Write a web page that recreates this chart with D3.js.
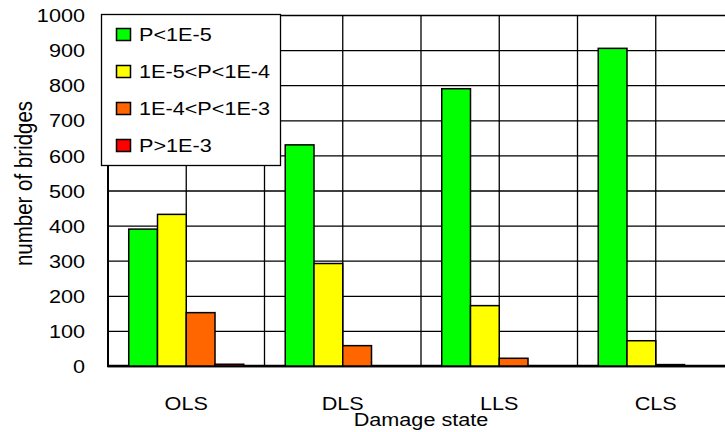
<!DOCTYPE html>
<html><head><meta charset="utf-8">
<script src="https://cdn.jsdelivr.net/npm/d3@7"></script>
<style>
html,body{margin:0;padding:0;background:#fff;}
svg{display:block;font-family:"Liberation Sans",Arial,sans-serif;}
</style></head>
<body>
<svg id="chart" width="725" height="432"></svg>
<script>
const categories = ["OLS", "DLS", "LLS", "CLS"];
const seriesNames = ["P<1E-5", "1E-5<P<1E-4", "1E-4<P<1E-3", "P>1E-3"];
const seriesColors = ["#00ff00", "#ffff00", "#ff6600", "#ff0000"];
const valuesPLt1e5 = [390, 630, 790, 905];
const values1e5to1e4 = [432, 292, 172, 72];
const values1e4to1e3 = [152, 58, 22, 4];
const valuesPGt1e3 = [5, 0, 0, 0];
const yTicks = [0, 100, 200, 300, 400, 500, 600, 700, 800, 900, 1000];
const xTitle = "Damage state";
const yTitle = "number of bridges";

(function () {
const series = [valuesPLt1e5, values1e5to1e4, values1e4to1e3, valuesPGt1e3];
const SX = 1.17, FS = 18.5;

const svg = d3.select("#chart");
const pLeft = 108, pRight = 734, pTop = 15, pBottom = 366;

const x0 = d3.scaleBand().domain(categories).range([pLeft, pRight])
  .paddingInner(0.265).paddingOuter(0.1325);
const x1 = d3.scaleBand().domain(seriesNames).range([0, x0.bandwidth()]);
const y = d3.scaleLinear().domain([0, 1000]).range([pBottom, pTop]);

// horizontal gridlines + y tick labels
const yAxis = svg.append("g").attr("transform", `translate(${pLeft},0)`)
  .call(d3.axisLeft(y).tickValues(yTicks).tickFormat(d3.format("d"))
    .tickSizeInner(-(pRight - pLeft)).tickSizeOuter(0).tickPadding(0));
yAxis.select(".domain").remove();
yAxis.selectAll(".tick line").attr("stroke", "#000").attr("stroke-width", 1.3);
yAxis.selectAll(".tick text")
  .attr("x", -23 / SX).attr("dy", "0.36em")
  .attr("transform", `scale(${SX},1)`)
  .attr("font-size", FS).attr("fill", "#000")
  .attr("font-family", "Liberation Sans, Arial, sans-serif");

// vertical gridlines: category centres and band boundaries
const step = x0.step();
const vLines = [];
categories.forEach(c => {
  vLines.push(x0(c) + x0.bandwidth() / 2);
  vLines.push(x0(c) - step * x0.paddingInner() / 2);
});
vLines.push(x0(categories[categories.length - 1]) + x0.bandwidth() + step * x0.paddingInner() / 2);
svg.append("g").selectAll("line").data(vLines).join("line")
  .attr("x1", d => d).attr("x2", d => d)
  .attr("y1", pTop).attr("y2", pBottom)
  .attr("stroke", "#000").attr("stroke-width", 1.3);

// axes lines
svg.append("line").attr("x1", pLeft).attr("x2", pLeft).attr("y1", pTop).attr("y2", pBottom + 1)
  .attr("stroke", "#000").attr("stroke-width", 2);
svg.append("line").attr("x1", pLeft - 1).attr("x2", 725).attr("y1", pBottom).attr("y2", pBottom)
  .attr("stroke", "#000").attr("stroke-width", 2.3);

// bars
const barData = [];
categories.forEach((c, ci) => {
  seriesNames.forEach((s, si) => {
    barData.push({ c, s, v: series[si][ci], color: seriesColors[si] });
  });
});
svg.append("g").selectAll("rect").data(barData.filter(d => d.v > 0)).join("rect")
  .attr("x", d => x0(d.c) + x1(d.s))
  .attr("width", x1.bandwidth())
  .attr("y", d => y(d.v))
  .attr("height", d => y(0) - y(d.v))
  .attr("fill", d => d.color)
  .attr("stroke", "#000").attr("stroke-width", 1.5);

// x category labels
const xAxis = svg.append("g").attr("transform", `translate(0,${pBottom})`)
  .call(d3.axisBottom(x0).tickSize(0).tickPadding(31));
xAxis.select(".domain").remove();
xAxis.selectAll(".tick text")
  .attr("transform", `scale(${SX},1)`)
  .attr("font-size", FS).attr("fill", "#000")
  .attr("font-family", "Liberation Sans, Arial, sans-serif");

// x title
svg.append("text").attr("transform", `translate(${(pLeft + pRight) / 2},426) scale(${SX},1)`)
  .attr("text-anchor", "middle").attr("font-size", FS).text(xTitle);

// y title
svg.append("text").attr("transform", "translate(32,183.5) scale(1.17,1) rotate(-90)")
  .attr("text-anchor", "middle").attr("font-size", 20.5).text(yTitle);

// legend
const lg = svg.append("g");
lg.append("rect").attr("x", 101.5).attr("y", 14.5).attr("width", 179).attr("height", 151)
  .attr("fill", "#fff").attr("stroke", "#000").attr("stroke-width", 1.3);
const rows = lg.selectAll("g.row").data(seriesNames).join("g")
  .attr("transform", (d, i) => `translate(0,${34.5 + i * 37})`);
rows.append("rect").attr("x", 116.5).attr("y", -6).attr("width", 14).attr("height", 12)
  .attr("fill", (d, i) => seriesColors[i]).attr("stroke", "#000").attr("stroke-width", 1.5);
rows.append("text").attr("transform", `translate(139,6.8) scale(${SX},1)`)
  .attr("font-size", FS).text(d => d);
})();
</script>
</body></html>
